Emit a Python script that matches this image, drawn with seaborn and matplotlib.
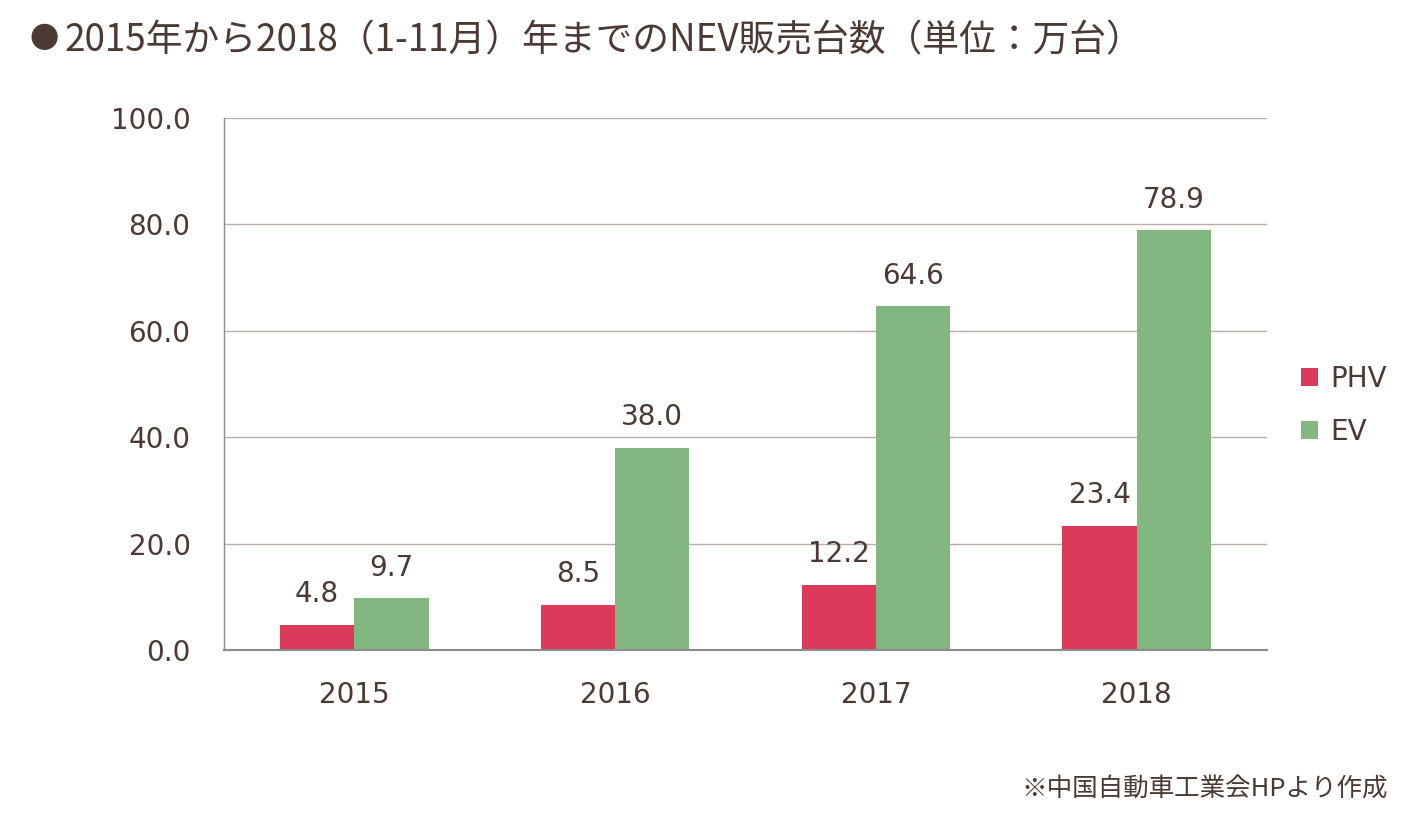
import matplotlib
matplotlib.use('Agg')
import matplotlib.pyplot as plt
import pandas as pd
import seaborn as sns

# data
years = ['2015', '2016', '2017', '2018']
phv = [4.8, 8.5, 12.2, 23.4]
ev = [9.7, 38.0, 64.6, 78.9]
series_names = ['PHV', 'EV']
colors = ['#DC3A5A', '#82B782']
title = '2015年から2018（1-11月）年までのNEV販売台数（単位：万台）'
note = '※中国自動車工業会HPより作成'

text_color = '#4B3A33'

sns.set_theme(style='white')
plt.rcParams['font.family'] = ['DejaVu Sans', 'Noto Sans CJK JP']
plt.rcParams['text.color'] = text_color
plt.rcParams['axes.labelcolor'] = text_color
plt.rcParams['xtick.color'] = text_color
plt.rcParams['ytick.color'] = text_color

df = pd.DataFrame({
    'year': years * 2,
    'type': [series_names[0]] * len(years) + [series_names[1]] * len(years),
    'value': phv + ev,
})

fig = plt.figure(figsize=(14.08, 8.22), dpi=100)
ax = fig.add_axes([0.159, 0.2092, 0.741, 0.6472])

sns.barplot(data=df, x='year', y='value', hue='type', palette=colors,
            width=0.57, saturation=1, linewidth=0, ax=ax, legend=True)

for container in ax.containers:
    ax.bar_label(container, fmt='%.1f', padding=12, fontsize=20,
                 color=text_color, family='DejaVu Sans')

ax.set_ylim(0, 100)
ax.set_yticks([0, 20, 40, 60, 80, 100])
ax.set_yticklabels([f'{v:.1f}' for v in [0, 20, 40, 60, 80, 100]])
ax.set_xlabel('')
ax.set_ylabel('')
ax.tick_params(axis='y', length=0, pad=24, labelsize=20)
ax.tick_params(axis='x', length=0, pad=22, labelsize=20)
for lbl in ax.get_xticklabels() + ax.get_yticklabels():
    lbl.set_family('DejaVu Sans')

ax.yaxis.grid(True, color='#B9ABA7', linewidth=1)
ax.set_axisbelow(True)
for side in ['top', 'right']:
    ax.spines[side].set_visible(False)
ax.spines['left'].set_color('#8C8C8C')
ax.spines['bottom'].set_color('#8C8C8C')
ax.spines['left'].set_linewidth(1)
ax.spines['bottom'].set_linewidth(1.5)

handles, labels = ax.get_legend_handles_labels()
ax.legend_.remove()
leg = fig.legend(handles, labels, loc='center left', bbox_to_anchor=(0.924, 0.507),
                 frameon=False, fontsize=20, handlelength=0.6, handleheight=0.6,
                 handletextpad=0.45, labelspacing=0.9, borderpad=0, borderaxespad=0)
for t in leg.get_texts():
    t.set_family('DejaVu Sans')

# bullet drawn separately so it sits a bit smaller with a gap, as in the reference
fig.text(0.021, 0.951, '●', fontsize=21, va='center', ha='left',
         family=['Noto Sans CJK JP', 'DejaVu Sans'])
fig.text(0.0455, 0.951, title, fontsize=26.5, va='center', ha='left',
         family=['Noto Sans CJK JP', 'DejaVu Sans'])
fig.text(0.986, 0.039, note, fontsize=18.4, va='center', ha='right',
         family=['Noto Sans CJK JP', 'DejaVu Sans'])

fig.savefig('out.png', dpi=100)
